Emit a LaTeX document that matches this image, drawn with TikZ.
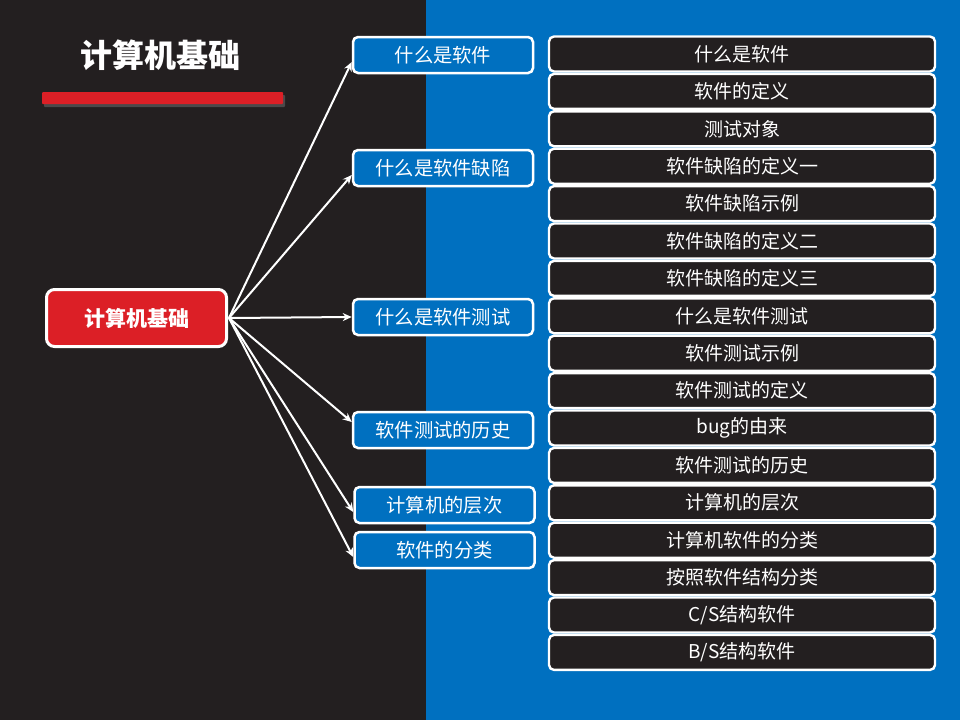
\documentclass[tikz,border=0pt]{standalone}
\usepackage{fontspec}
\setmainfont{Noto Sans CJK SC}
\usetikzlibrary{arrows.meta,shadows}
\definecolor{darkbg}{HTML}{231F20}
\definecolor{bluebg}{HTML}{0070C0}
\definecolor{redc}{HTML}{DC1F26}
\tikzset{
  midbox/.style={draw=white, line width=2.5pt, fill=bluebg, rounded corners=5pt,
    minimum width=180pt, minimum height=36pt, inner sep=0pt, text=white, font=\fontsize{19.3}{21}\selectfont},
  rightbox/.style={draw=white, line width=2.4pt, fill=darkbg, rounded corners=5pt,
    minimum width=386pt, minimum height=35pt, inner sep=0pt, text=white, font=\fontsize{19}{21}\selectfont},
  conn/.style={draw=white, line width=2pt, -{Stealth[length=9pt,width=8pt]}}
}
\begin{document}
\begin{tikzpicture}[x=1pt,y=-1pt]
\useasboundingbox (0,0) rectangle (960,720);
\fill[darkbg] (0,0) rectangle (426,720);
\fill[bluebg] (426,0) rectangle (960,720);
\node[text=white, font=\bfseries\fontsize{32}{36}\selectfont] (title) at (160,55) {计算机基础};
\fill[black!60, opacity=0.6, rounded corners=1pt] (44,95) rectangle (285,107);
\fill[redc, rounded corners=1pt] (42,92) rectangle (283,104);
\node[draw=white, line width=3pt, fill=redc, rounded corners=8pt, minimum width=180pt,
  minimum height=57pt, inner sep=0pt, text=white, font=\bfseries\fontsize{21}{24}\selectfont]
  (root) at (136.5,318) {计算机基础};
\node[midbox] (m1) at (443,55) {什么是软件};
\node[midbox] (m2) at (443,168) {什么是软件缺陷};
\node[midbox] (m3) at (443,317) {什么是软件测试};
\node[midbox] (m4) at (443,430) {软件测试的历史};
\node[midbox] (m5) at (444.5,505) {计算机的层次};
\node[midbox] (m6) at (444.5,550) {软件的分类};
\foreach \t [count=\i from 0] in {什么是软件,软件的定义,测试对象,软件缺陷的定义一,软件缺陷示例,软件缺陷的定义二,软件缺陷的定义三,什么是软件测试,软件测试示例,软件测试的定义,bug的由来,软件测试的历史,计算机的层次,计算机软件的分类,按照软件结构分类,C/S结构软件,B/S结构软件}{
  \node[rightbox] (r\i) at (742,{54+\i*37.4}) {\t};
}
\coordinate (o) at (229,318);
\foreach \m/\yy in {m1/62,m2/175,m3/317,m4/422,m5/512,m6/557}{
  \draw[conn] (o) -- (\m.west |- 0,\yy);
}
\end{tikzpicture}
\end{document}
